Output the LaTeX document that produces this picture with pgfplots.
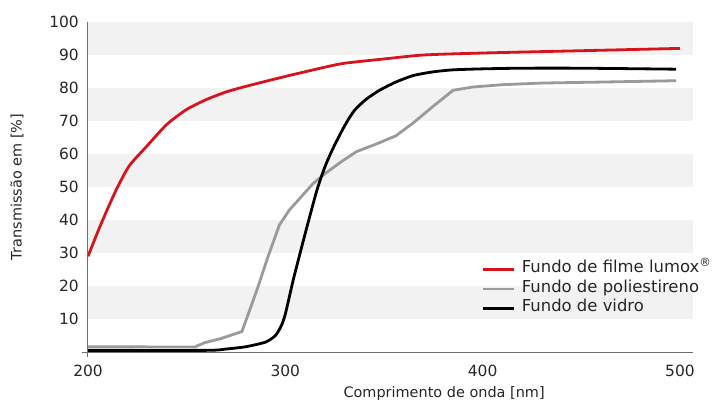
\documentclass[border=0pt]{standalone}
\usepackage{fontspec}
\setmainfont{DejaVu Sans}
\usepackage{pgfplots}
\pgfplotsset{compat=1.18}

\definecolor{lumoxred}{HTML}{D7141E}
\definecolor{psgray}{HTML}{9A9A9C}
\definecolor{band}{HTML}{F2F2F2}
\definecolor{axisgray}{HTML}{6E6E6E}

\begin{document}
\begin{tikzpicture}
\useasboundingbox (-88bp,-51bp) rectangle (624bp,352bp);
\begin{axis}[
  at={(0bp,0bp)}, anchor=south west,
  scale only axis,
  width=605bp, height=330bp,
  xmin=200, xmax=506.6,
  ymin=0, ymax=100,
  axis lines=left,
  axis line style={axisgray, line width=1bp, -},
  axis on top,
  xtick={200,300,400,500},
  ytick={10,20,...,100},
  major tick length=0pt,
  /pgf/number format/assume math mode=true,
  /pgf/number format/1000 sep={},
  xticklabel style={font=\fontsize{15.5}{18}\selectfont, inner sep=0pt,
                    anchor=north, yshift=-13bp, text=black!85},
  yticklabel style={font=\fontsize{15.5}{18}\selectfont, inner sep=0pt,
                    anchor=east, xshift=-9bp, text=black!85},
  legend style={at={(rel axis cs:0.651,0.28)}, anchor=north west,
                draw=none, fill=none, inner sep=0pt,
                font=\fontsize{16.5}{19}\selectfont,
                nodes={inner sep=0pt, text height=13bp, text depth=6.5bp,
                       text=black!85},
                column sep=6bp, row sep=0bp},
  legend cell align=left,
  legend image code/.code={\draw[#1] (0bp,0bp) -- (31bp,0bp);},
  clip=false,
]
% background bands
\fill[band] (rel axis cs:0,0.1) rectangle (rel axis cs:1,0.2);
\fill[band] (rel axis cs:0,0.3) rectangle (rel axis cs:1,0.4);
\fill[band] (rel axis cs:0,0.5) rectangle (rel axis cs:1,0.6);
\fill[band] (rel axis cs:0,0.7) rectangle (rel axis cs:1,0.8);
\fill[band] (rel axis cs:0,0.9) rectangle (rel axis cs:1,1.0);

\addplot[lumoxred, line width=2.8bp, smooth, tension=0.4] coordinates {
  (200,29) (205,36.5) (210,43.5) (215,50) (221,56.5) (230,62.5) (240,69)
  (250,73.5) (260,76.5) (270,78.8) (280,80.5) (300,83.5) (320,86.3)
  (330,87.5) (350,88.8) (370,90) (400,90.6) (450,91.3) (500,92)};
\addlegendentry{Fundo de filme lumox\textsuperscript{®}}

\addplot[psgray, line width=2.8bp] coordinates {
  (200,1.6) (254,1.5) (259,2.8) (267,4) (278,6.2) (282,12.8) (286,19.5)
  (291,28.5) (297,38.5) (302,43) (308,47) (314,51) (320,54) (328,57.5)
  (336,60.7) (346,63) (356,65.5) (365,69.5) (375,74.5) (385,79.3)
  (395,80.3) (410,81) (430,81.5) (460,81.8) (498,82.2)};
\addlegendentry{Fundo de poliestireno}

\addplot[black, line width=2.8bp, smooth, tension=0.4] coordinates {
  (200,0.5) (260,0.5) (270,0.9) (280,1.6) (290,3) (295,5) (298,8)
  (300,11.5) (304,21.8) (307.5,30) (311,38) (316,49) (320,56) (324,61.5)
  (330,68.5) (335,73.2) (341,76.6) (348,79.4) (356,81.8) (365,83.8)
  (375,84.9) (385,85.5) (400,85.8) (420,86) (450,86) (498,85.7)};
\addlegendentry{Fundo de vidro}

% small extensions of the axes at the origin
\draw[axisgray, line width=1bp] ([xshift=-6bp]rel axis cs:0,0) -- (rel axis cs:0,0);
\draw[axisgray, line width=1bp] ([yshift=-5bp]rel axis cs:0,0) -- (rel axis cs:0,0);

\node[font=\fontsize{14.5}{17}\selectfont, text=black!85, anchor=base]
  at ([yshift=-45bp]rel axis cs:0.5886,0) {Comprimento de onda [nm]};
\node[font=\fontsize{14.5}{17}\selectfont, text=black!85, rotate=90, anchor=center]
  at ([xshift=-71bp]rel axis cs:0,0.5) {Transmissão em [\%]};
\end{axis}
\end{tikzpicture}
\end{document}
